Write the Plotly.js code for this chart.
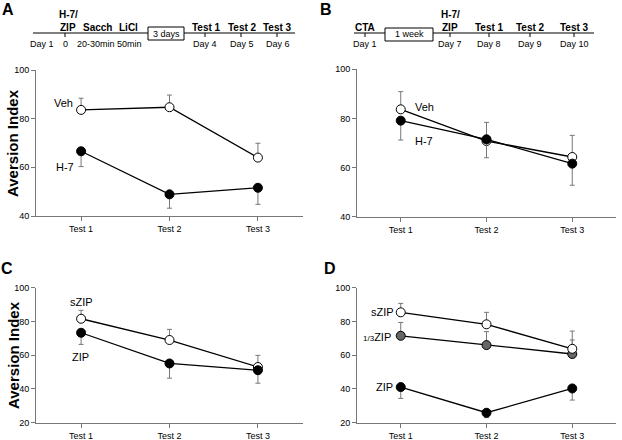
<!DOCTYPE html>
<html>
<head>
<meta charset="utf-8">
<script src="https://cdn.plot.ly/plotly-3.0.1.min.js"></script>
<style>
  html, body { margin: 0; padding: 0; background: #fff; }
  #chart { width: 622px; height: 440px; }
</style>
</head>
<body>
<div id="chart"></div>
<script>
// categories
var tests = ['Test 1', 'Test 2', 'Test 3'];
var xpos = [0, 1, 2];

// panel A
var vehA = [83.6, 84.7, 64.0];
var vehAErr = [4.8, 5.0, 5.9];
var h7A = [66.6, 48.9, 51.6];
var h7AErr = [6.3, 5.7, 6.8];

// panel B
var vehB = [83.7, 70.8, 64.3];
var vehBErr = [7.2, 7.6, 8.8];
var h7B = [79.1, 71.5, 61.6];
var h7BErr = [7.9, 7.5, 8.8];

// panel C
var szipC = [81.6, 69.0, 53.0];
var szipCErr = [5.0, 6.3, 6.9];
var zipC = [73.3, 55.1, 51.1];
var zipCErr = [6.9, 8.7, 7.7];

// panel D
var szipD = [85.4, 78.3, 63.8];
var szipDErr = [5.3, 7.1, 10.5];
var thirdD = [71.5, 66.0, 60.7];
var thirdDErr = [7.9, 8.0, 8.3];
var zipD = [41.1, 25.9, 40.3];
var zipDErr = [6.7, 2.9, 6.9];

var W = 622, H = 440;
function fx(px) { return px / W; }
function fy(py) { return 1 - py / H; }

var zeros = [0, 0, 0];
function series(y, err, up, fill, xa, ya) {
  return {
    x: xpos, y: y, xaxis: xa, yaxis: ya,
    type: 'scatter', mode: 'lines+markers', showlegend: false,
    line: {color: '#000', width: 1.3},
    marker: {size: 9, color: fill, line: {color: '#000', width: 1}},
    error_y: {
      type: 'data', symmetric: false,
      array: up ? err : zeros,
      arrayminus: up ? zeros : err,
      color: '#777', thickness: 1, width: 2.5
    }
  };
}

var data = [
  series(vehA, vehAErr, true, '#fff', 'x', 'y'),
  series(h7A, h7AErr, false, '#000', 'x', 'y'),
  series(vehB, vehBErr, true, '#fff', 'x2', 'y2'),
  series(h7B, h7BErr, false, '#000', 'x2', 'y2'),
  series(szipC, szipCErr, true, '#fff', 'x3', 'y3'),
  series(zipC, zipCErr, false, '#000', 'x3', 'y3'),
  series(thirdD, thirdDErr, true, '#666', 'x4', 'y4'),
  series(szipD, szipDErr, true, '#fff', 'x4', 'y4'),
  series(zipD, zipDErr, false, '#000', 'x4', 'y4')
];

function xax(l, r, anchor) {
  return {
    domain: [fx(l), fx(r)], anchor: anchor, range: [-0.51, 2.51],
    tickvals: xpos, ticktext: tests, ticks: 'outside', ticklen: 4,
    tickcolor: '#777', showline: true, linecolor: '#777', linewidth: 1,
    showgrid: false, zeroline: false, fixedrange: true,
    tickfont: {size: 9, color: '#000'}
  };
}
function yax(t, b, anchor, lo) {
  return {
    domain: [fy(b), fy(t)], anchor: anchor, range: [lo, 100],
    dtick: 20, ticks: 'outside', ticklen: 4, tickcolor: '#777',
    showline: true, linecolor: '#777', linewidth: 1,
    showgrid: false, zeroline: false, fixedrange: true,
    tickfont: {size: 9, color: '#000'}
  };
}

var anns = [];
function txt(px, py, s, size, bold, extra) {
  var a = {
    xref: 'paper', yref: 'paper', x: fx(px), y: fy(py),
    xanchor: 'center', yanchor: 'middle', showarrow: false,
    text: bold ? '<b>' + s + '</b>' : s,
    font: {size: size, color: '#000'}
  };
  for (var k in extra) a[k] = extra[k];
  anns.push(a);
}

// panel letters
txt(8, 9, 'A', 16, true);
txt(326, 9, 'B', 16, true);
txt(7, 268, 'C', 16, true);
txt(330, 268, 'D', 16, true);

// y titles
txt(13, 143, 'Aversion Index', 15, true, {textangle: -90});
txt(13, 355, 'Aversion Index', 15, true, {textangle: -90});

// series labels
txt(63, 103, 'Veh', 11);
txt(65, 167, 'H-7', 11);
txt(424, 107, 'Veh', 11);
txt(424, 141, 'H-7', 11);
txt(82, 302, 'sZIP', 11);
txt(80, 357, 'ZIP', 11);
txt(382, 312, 'sZIP', 11);
txt(377, 337, '<span style="font-size:8px">1/3</span>ZIP', 11);
txt(384, 387, 'ZIP', 11);

// timeline A
var shapes = [];
function hline(x0, x1, y) {
  shapes.push({type: 'line', xref: 'paper', yref: 'paper',
    x0: fx(x0), x1: fx(x1), y0: fy(y), y1: fy(y), line: {color: '#000', width: 1}});
}
function tick(x, y) {
  shapes.push({type: 'line', xref: 'paper', yref: 'paper',
    x0: fx(x), x1: fx(x), y0: fy(y), y1: fy(y + 4), line: {color: '#000', width: 1}});
}
function box(x0, x1, y0, y1) {
  shapes.push({type: 'rect', xref: 'paper', yref: 'paper',
    x0: fx(x0), x1: fx(x1), y0: fy(y1), y1: fy(y0),
    fillcolor: '#fff', line: {color: '#000', width: 1}});
}

hline(33, 295, 33);
[65, 205, 241, 277].forEach(function (x) { tick(x, 33); });
box(148, 184, 27, 40);
txt(166, 34, '3 days', 9);
txt(68, 14, 'H-7/', 10, true);
txt(68, 27, 'ZIP', 10, true);
txt(97, 27, 'Sacch', 10, true);
txt(128, 27, 'LiCl', 10, true);
txt(206, 27, 'Test 1', 10, true);
txt(242, 27, 'Test 2', 10, true);
txt(277, 27, 'Test 3', 10, true);
txt(42, 44, 'Day 1', 9);
txt(65, 44, '0', 9);
txt(96, 44, '20-30min', 9);
txt(129, 44, '50min', 9);
txt(205, 44, 'Day 4', 9);
txt(242, 44, 'Day 5', 9);
txt(278, 44, 'Day 6', 9);

// timeline B
hline(354, 594, 33);
[365, 450, 489, 530, 574].forEach(function (x) { tick(x, 33); });
box(385, 433, 28, 41);
txt(409, 34, '1 week', 9);
txt(365, 27, 'CTA', 10, true);
txt(450, 14, 'H-7/', 10, true);
txt(450, 27, 'ZIP', 10, true);
txt(489, 27, 'Test 1', 10, true);
txt(530, 27, 'Test 2', 10, true);
txt(574, 27, 'Test 3', 10, true);
txt(365, 44, 'Day 1', 9);
txt(450, 44, 'Day 7', 9);
txt(489, 44, 'Day 8', 9);
txt(530, 44, 'Day 9', 9);
txt(574, 44, 'Day 10', 9);

var layout = {
  width: W, height: H,
  margin: {l: 0, r: 0, t: 0, b: 0},
  paper_bgcolor: '#fff', plot_bgcolor: 'rgba(0,0,0,0)',
  font: {family: 'Liberation Sans, Arial, sans-serif', color: '#000'},
  showlegend: false,
  xaxis: xax(36, 303, 'y'),
  yaxis: yax(70, 216, 'x', 40),
  xaxis2: xax(357, 616, 'y2'),
  yaxis2: yax(69.3, 216.7, 'x2', 40),
  xaxis3: xax(36, 303, 'y3'),
  yaxis3: yax(287.7, 422.7, 'x3', 20),
  xaxis4: xax(357, 616, 'y4'),
  yaxis4: yax(287.7, 422.7, 'x4', 20),
  annotations: anns,
  shapes: shapes
};

Plotly.newPlot('chart', data, layout, {displayModeBar: false, staticPlot: true});
</script>
</body>
</html>
